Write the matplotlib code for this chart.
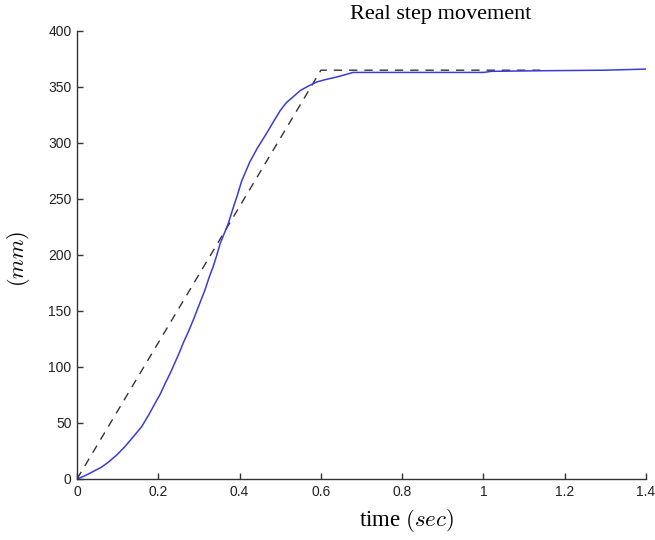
import matplotlib
matplotlib.use("Agg")
import matplotlib.pyplot as plt

# measured step response (sec, mm)
t_real = [0.0, 0.02, 0.044, 0.06, 0.077, 0.098, 0.118, 0.138, 0.159, 0.176,
          0.192, 0.205, 0.217, 0.23, 0.241, 0.252, 0.262, 0.274, 0.286, 0.30,
          0.315, 0.325, 0.335, 0.344, 0.352, 0.362, 0.372, 0.385, 0.395, 0.405,
          0.425, 0.443, 0.467, 0.485, 0.50, 0.515, 0.531, 0.55, 0.57, 0.59,
          0.61, 0.64, 0.66, 0.679, 0.70, 0.80, 0.90, 1.00, 1.02, 1.14, 1.30, 1.40]
x_real = [0.0, 3.0, 7.5, 10.5, 15.0, 21.5, 29.0, 37.5, 46.7, 57.0,
          67.6, 76.0, 85.4, 95.0, 104.0, 113.0, 122.0, 131.5, 142.0, 155.0,
          169.0, 180.0, 189.6, 200.0, 210.0, 219.0, 228.0, 243.0, 254.0, 266.0,
          283.0, 295.0, 309.0, 320.0, 329.0, 336.0, 341.0, 347.0, 351.0, 354.5,
          356.5, 359.0, 361.0, 363.0, 363.0, 363.0, 363.0, 363.0, 364.0, 364.5,
          365.0, 366.0]

# ideal trapezoidal reference
t_ref = [0.0, 0.6, 1.14]
x_ref = [0.0, 365.0, 365.0]

plt.rcParams["mathtext.fontset"] = "cm"

fig = plt.figure(figsize=(6.55, 5.4), dpi=100)
ax = fig.add_axes([0.1176, 0.113, 0.8687, 0.8296])

ax.plot(t_ref, x_ref, color="#333333", lw=1.0, dashes=(6, 5))
ax.plot(t_real, x_real, color="#3b3bd6", lw=1.1)

ax.set_xlim(0, 1.4)
ax.set_ylim(0, 400)
ax.set_xticks([0, 0.2, 0.4, 0.6, 0.8, 1.0, 1.2, 1.4])
ax.set_xticklabels(["0", "0.2", "0.4", "0.6", "0.8", "1", "1.2", "1.4"])
ax.set_yticks(range(0, 401, 50))

for s in ("top", "right"):
    ax.spines[s].set_visible(False)
for s in ("left", "bottom"):
    ax.spines[s].set_color("#333333")
    ax.spines[s].set_linewidth(1.0)

ax.tick_params(direction="in", length=4.5, width=1.0, color="#333333",
               labelsize=10, labelcolor="#222222", pad=4)
for lab in ax.get_xticklabels() + ax.get_yticklabels():
    lab.set_family("Liberation Sans")

fig.text(0.673, 0.974, "Real step movement", ha="center", va="center",
         family="Liberation Serif", fontsize=16)
fig.text(0.62, 0.037, r"time $(sec)$", ha="center", va="center",
         family="Liberation Serif", fontsize=16.5)
fig.text(0.028, 0.52, r"$(mm)$", ha="center", va="center", rotation=90,
         fontsize=16)

fig.savefig("out.png", dpi=100)
